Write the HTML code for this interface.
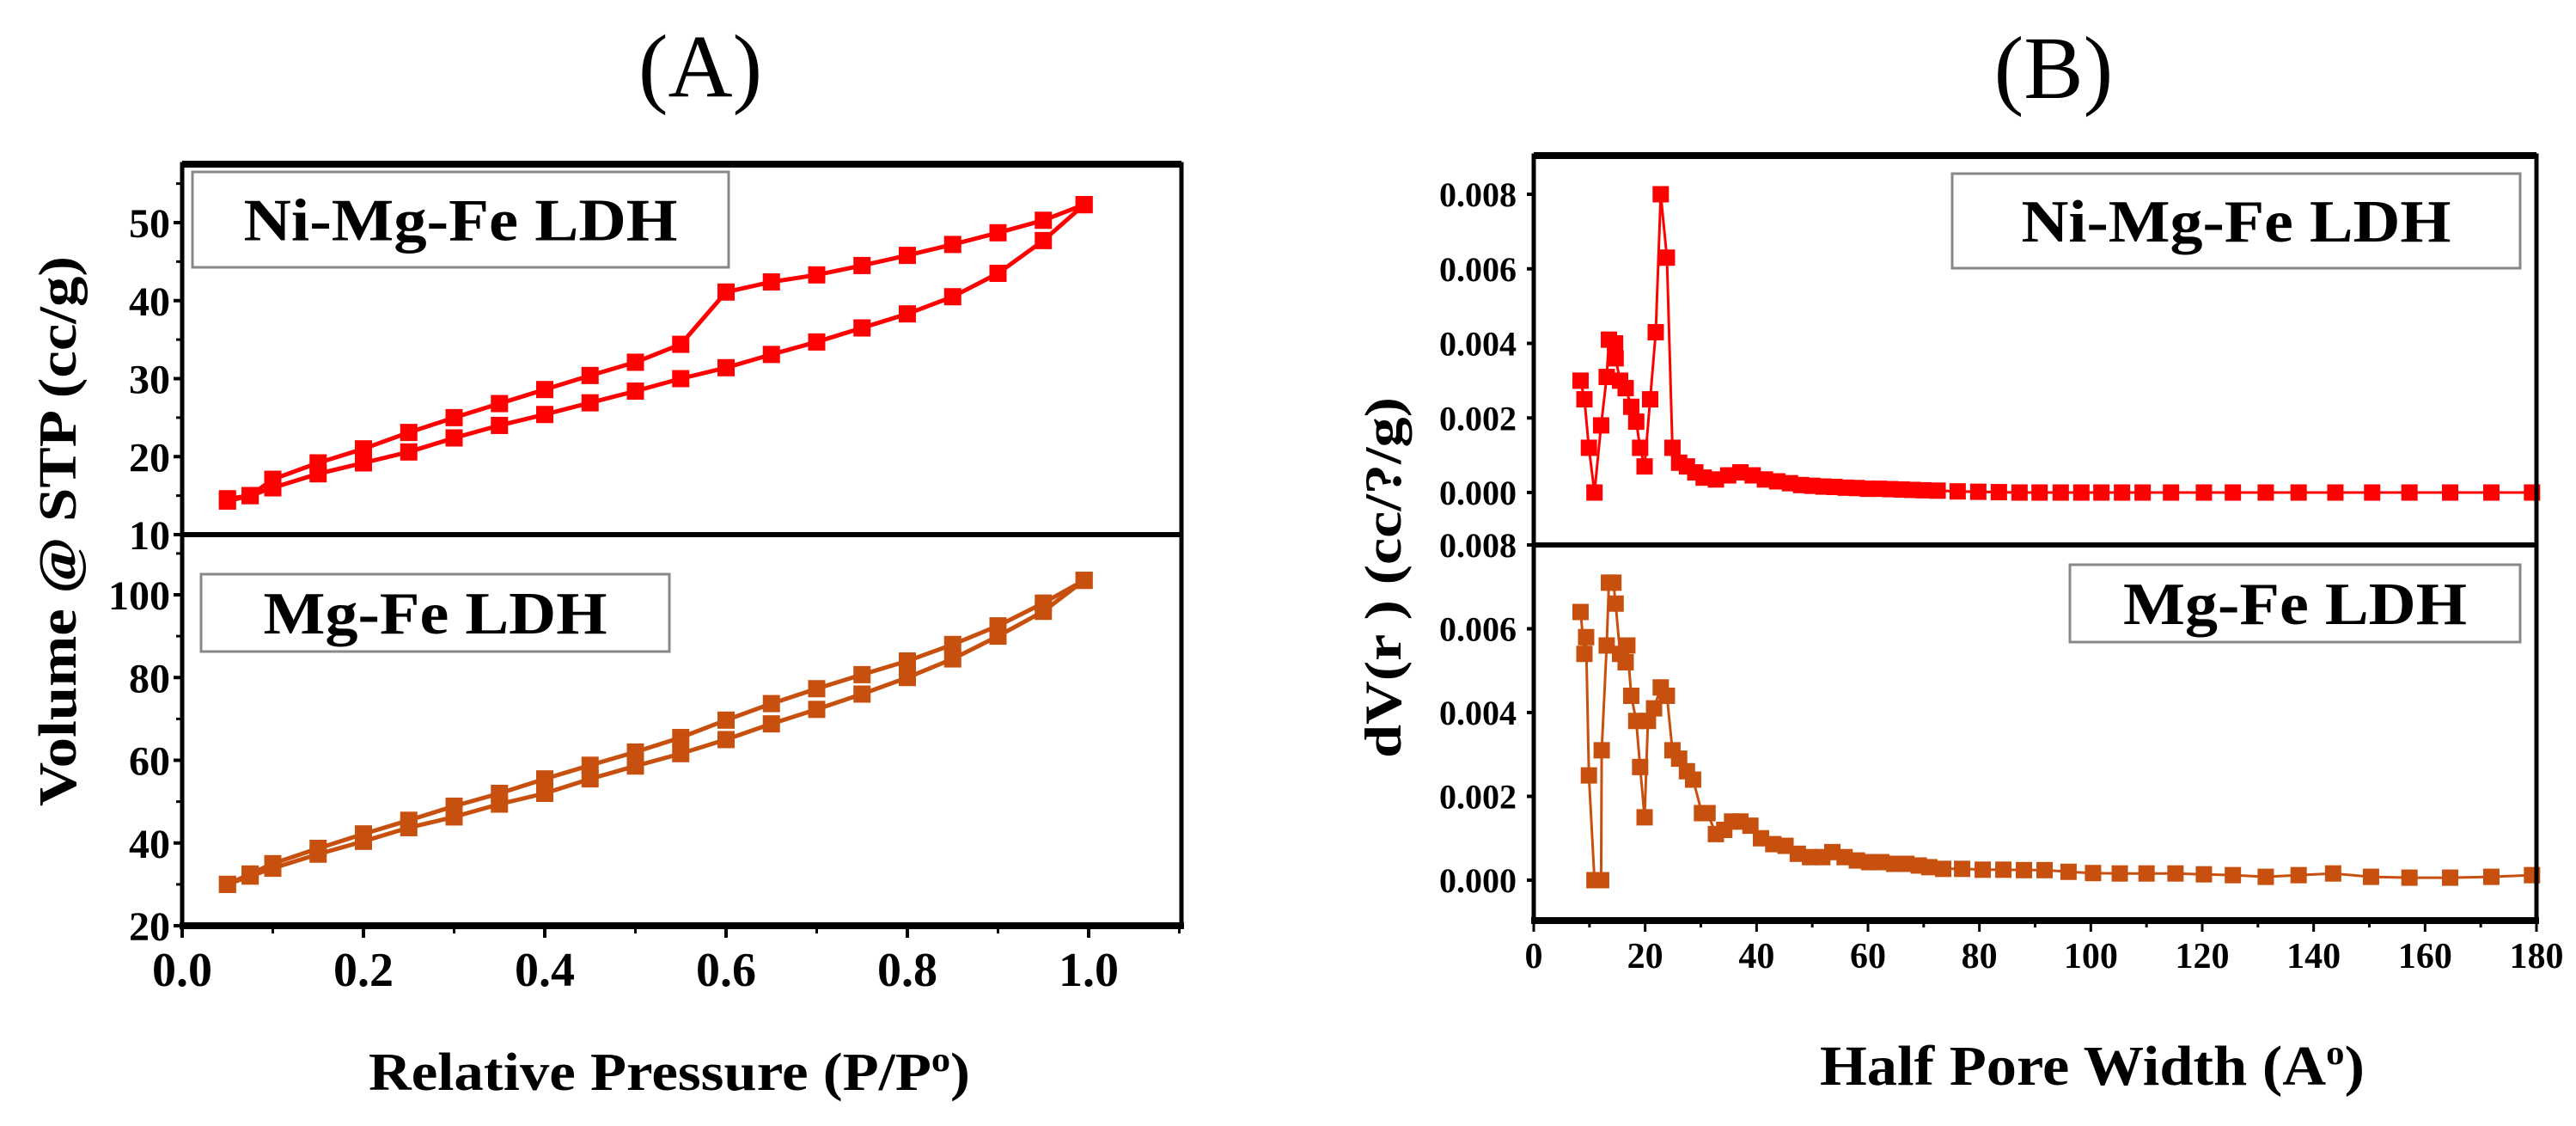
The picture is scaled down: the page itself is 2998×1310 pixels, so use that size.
<!DOCTYPE html>
<html><head><meta charset="utf-8"><style>
html,body{margin:0;padding:0;background:#fff;}
svg{display:block;}
text{font-family:"Liberation Serif",serif;}
</style></head><body>
<svg id="fig" width="2998" height="1310" viewBox="0 0 2998 1310" xmlns="http://www.w3.org/2000/svg">
<text x="815" y="112" font-size="104" text-anchor="middle">(A)</text>
<text x="2390" y="114" font-size="104" text-anchor="middle">(B)</text>
<text transform="translate(88,618) rotate(-90)" font-size="62" font-weight="bold" text-anchor="middle" textLength="640" lengthAdjust="spacingAndGlyphs">Volume @ STP (cc/g)</text>
<text x="779" y="1268" font-size="62" font-weight="bold" text-anchor="middle" textLength="700" lengthAdjust="spacingAndGlyphs">Relative Pressure (P/P<tspan font-size="40" dy="-22">o</tspan><tspan dy="22">)</tspan></text>
<text transform="translate(1630,672) rotate(-90)" font-size="60" font-weight="bold" text-anchor="middle" textLength="420" lengthAdjust="spacingAndGlyphs">dV(r ) (cc/?/g)</text>
<text x="2435" y="1262" font-size="66" font-weight="bold" text-anchor="middle" textLength="634" lengthAdjust="spacingAndGlyphs">Half Pore Width (A<tspan font-size="40" dy="-24">o</tspan><tspan dy="24">)</tspan></text>
<g id="plots"></g>
</svg>
<script>
// ---- Panel A data ----
const aP = [0.05,0.075,0.1,0.15,0.2,0.25,0.3,0.35,0.4,0.45,0.5,0.55,0.6,0.65,0.7,0.75,0.8,0.85,0.9,0.95,0.995];
const niAds = [14.3,15,16,17.8,19.2,20.6,22.4,24,25.4,26.9,28.4,30,31.4,33.1,34.7,36.5,38.3,40.5,43.5,47.7,52.3];
const niDes = [14.6,15,17.1,19.2,21,23.1,25,26.8,28.6,30.4,32.1,34.4,41.1,42.4,43.3,44.5,45.8,47.2,48.7,50.3,52.3];
const mgAds = [30,32,33.9,37.3,40.4,43.7,46.3,49.4,52,55.5,58.6,61.6,65,68.8,72.3,76,80,84.5,90,96,103.5];
const mgDes = [30,32.5,35,38.7,42.2,45.5,48.9,52,55.5,58.8,62,65.5,69.7,73.7,77.3,80.7,84,88,92.5,98,103.5];
const aXTicks = ["0.0","0.2","0.4","0.6","0.8","1.0"];
const aTopTicks = ["10","20","30","40","50"];
const aBotTicks = ["20","40","60","80","100"];
// ---- Panel B data ----
const niW = [8.4,9.1,9.9,10.9,12.1,13.1,13.5,14.6,14.7,15.5,16.5,17.5,18.4,19.1,19.9,20.9,21.9,22.8,23.9,24.9,26.1,27.5,29,30.5,32.7,34.9,37.1,39.3,41.5,43.7,46,48,50,52,54,56,58,60,62,64,66,68,70,72.5,76.1,79.8,83.5,87.2,90.8,94.6,98.3,101.9,105.6,109.3,114.4,120.3,125.5,131.4,137.3,143.9,150.5,157.2,164.5,171.9,179.2];
const niDV = [0.0030,0.0025,0.0012,0,0.0018,0.0031,0.0041,0.0040,0.0036,0.0030,0.0028,0.0023,0.0019,0.0012,0.0007,0.0025,0.0043,0.0080,0.0063,0.0012,0.0008,0.0007,0.00054,0.0004,0.00035,0.00046,0.00054,0.00046,0.00035,0.0003,0.00025,0.0002,0.00018,0.00016,0.00015,0.00013,0.00012,0.0001,0.0001,0.00009,0.00008,0.00007,0.00006,0.00005,0.00003,0.00002,0.00001,0,0,0,0,0,0,0,0,0,0,0,0,0,0,0,0,0,0];
const mgW = [8.4,9.1,9.4,9.9,10.9,12.1,12.2,13.1,13.5,14.3,14.7,15.5,16.5,16.8,17.5,18.4,19.1,19.9,20.5,21.6,22.8,23.9,24.9,26.1,27.5,28.6,30.2,31.2,32.7,34.2,35.6,37.1,38.9,40.8,43,45.2,47.4,49.6,51.8,53.6,55.8,58,60.2,62.4,64.7,66.9,69.1,71,73.5,76.9,80.6,84.3,88,91.7,96,100.4,105.2,110,115.2,120.3,125.5,131.4,137.3,143.5,150.3,157.2,164.5,171.9,179.2];
const mgDV = [0.0064,0.0054,0.0058,0.0025,0,0,0.0031,0.0056,0.0071,0.0071,0.0066,0.0054,0.0052,0.0056,0.0044,0.0038,0.0027,0.0015,0.0038,0.0041,0.0046,0.0044,0.0031,0.0029,0.0026,0.0024,0.0016,0.0016,0.0011,0.0012,0.0014,0.0014,0.0013,0.0010,0.00086,0.00082,0.00063,0.00055,0.00055,0.00067,0.00055,0.00047,0.00043,0.00043,0.00039,0.00039,0.00035,0.00031,0.00027,0.00027,0.00025,0.00025,0.00024,0.00024,0.0002,0.00017,0.00016,0.00016,0.00016,0.00014,0.00012,0.00008,0.00012,0.00016,0.00008,0.00006,0.00006,0.00008,0.00012];
const bXTicks = ["0","20","40","60","80","100","120","140","160","180"];
const bYTicks = ["0.000","0.002","0.004","0.006","0.008"];

const NS="http://www.w3.org/2000/svg";
const root=document.getElementById('plots');
function mk(tag,attrs,parent){const e=document.createElementNS(NS,tag);for(const k in attrs)e.setAttribute(k,attrs[k]);(parent||root).appendChild(e);return e;}
function lin(d0,d1,r0,r1){return v=>r0+(v-d0)*(r1-r0)/(d1-d0);}

function series(xs,ys,sx,sy,color,lw,ms,name){
  const g=mk('g',{});
  
  
  const pts=xs.map((x,i)=>sx(x).toFixed(1)+','+sy(ys[i]).toFixed(1)).join(' ');
  const pl=mk('polyline',{points:pts,fill:'none',stroke:color,'stroke-width':lw,'stroke-linejoin':'round'},g);
  
  
  xs.forEach((x,i)=>{
    const r=mk('rect',{x:sx(x)-ms/2,y:sy(ys[i])-ms/2,width:ms,height:ms,fill:color},g);
    
    
  });
}
function legend(x,y,w,h,label,fs,tl){
  const g=mk('g',{});
  
  
  mk('rect',{x:x,y:y,width:w,height:h,fill:'#fff',stroke:'#888','stroke-width':3},g);
  const t=mk('text',{x:x+w/2,y:y+h/2+fs*0.34,'font-size':fs,'font-weight':'bold','text-anchor':'middle',textLength:tl,lengthAdjust:'spacingAndGlyphs'},g);
  t.textContent=label;
  
  
}

// ===== Panel A =====
const AL=212,AR=1375,AT=191,AM=622,AB=1077;
const ax=lin(0,1.1,AL,AL+1.1*1055);
const ayTop=lin(10,50,AM,259);
const ayBot=lin(20,100,AB,692);
legend(224,200,624,111,'Ni-Mg-Fe LDH',70,505);
legend(234,668,545,90,'Mg-Fe LDH',70,400);
series(aP,niAds,ax,ayTop,'#ff0000',5,20,'ni-mg-fe-adsorption');
series(aP,niDes,ax,ayTop,'#ff0000',5,20,'ni-mg-fe-desorption');
series(aP,mgAds,ax,ayBot,'#c8500f',5,20,'mg-fe-adsorption');
series(aP,mgDes,ax,ayBot,'#c8500f',5,20,'mg-fe-desorption');
mk('path',{d:`M${AL},${AB} V${AT} H${AR} V${AB}`,fill:'none',stroke:'#000','stroke-width':5});
mk('line',{x1:AL,y1:AT,x2:AR,y2:AT,stroke:'#000','stroke-width':8});
mk('line',{x1:AL,y1:AM,x2:AR,y2:AM,stroke:'#000','stroke-width':6});
mk('line',{x1:AL-3,y1:AB,x2:AR+3,y2:AB,stroke:'#000','stroke-width':8});
aXTicks.forEach((t,i)=>{const v=parseFloat(t);const x=ax(v);
  mk('line',{x1:x,y1:AB,x2:x,y2:AB+14,stroke:'#000','stroke-width':4});
  const e=mk('text',{x:x,y:1147,'font-size':56,'font-weight':'bold','text-anchor':'middle'});e.textContent=t;
  
  });
for(let v=0.1;v<1.1;v+=0.2){const x=ax(v);mk('line',{x1:x,y1:AB,x2:x,y2:AB+9,stroke:'#000','stroke-width':3});}
aTopTicks.forEach(t=>{const v=+t;const y=ayTop(v);
  mk('line',{x1:AL-10,y1:y,x2:AL,y2:y,stroke:'#000','stroke-width':4});
  const e=mk('text',{x:AL-14,y:y+17,'font-size':48,'font-weight':'bold','text-anchor':'end'});e.textContent=t;
  
  });
for(let v=15;v<58;v+=10){const y=ayTop(v);mk('line',{x1:AL-7,y1:y,x2:AL,y2:y,stroke:'#000','stroke-width':3});}
aBotTicks.forEach(t=>{const v=+t;const y=ayBot(v);
  mk('line',{x1:AL-10,y1:y,x2:AL,y2:y,stroke:'#000','stroke-width':4});
  const e=mk('text',{x:AL-14,y:y+17,'font-size':48,'font-weight':'bold','text-anchor':'end'});e.textContent=t;
  
  });
for(let v=30;v<114;v+=20){const y=ayBot(v);mk('line',{x1:AL-7,y1:y,x2:AL,y2:y,stroke:'#000','stroke-width':3});}

// ===== Panel B =====
const BL=1785,BR=2952,BT=181,BM=634,BB=1071;
const bx=lin(0,180,BL,BR);
const byTop=lin(0,0.008,573,226);
const byBot=lin(0,0.008,1024,BM);
legend(2272,202,661,110,'Ni-Mg-Fe LDH',70,500);
legend(2409,657,524,90,'Mg-Fe LDH',70,400);
series(niW,niDV,bx,byTop,'#ff0000',3,19,'ni-mg-fe-pore-distribution');
series(mgW,mgDV,bx,byBot,'#c8500f',3,19,'mg-fe-pore-distribution');
mk('path',{d:`M${BL},${BB} V${BT} H${BR} V${BB}`,fill:'none',stroke:'#000','stroke-width':5});
mk('line',{x1:BL,y1:BT,x2:BR,y2:BT,stroke:'#000','stroke-width':8});
mk('line',{x1:BL,y1:BM,x2:BR,y2:BM,stroke:'#000','stroke-width':6});
mk('line',{x1:BL-3,y1:BB,x2:BR+3,y2:BB,stroke:'#000','stroke-width':8});
bXTicks.forEach(t=>{const v=+t;const x=bx(v);
  mk('line',{x1:x,y1:BB,x2:x,y2:BB+13,stroke:'#000','stroke-width':3});
  const e=mk('text',{x:x,y:1126,'font-size':42,'font-weight':'bold','text-anchor':'middle'});e.textContent=t;
  
  });
for(let v=10;v<180;v+=20){const x=bx(v);mk('line',{x1:x,y1:BB,x2:x,y2:BB+8,stroke:'#000','stroke-width':3});}
bYTicks.forEach(t=>{const v=+t;[byTop,byBot].forEach((sc,k)=>{const y=sc(v);
  mk('line',{x1:BL-8,y1:y,x2:BL,y2:y,stroke:'#000','stroke-width':4});
  const e=mk('text',{x:BL-20,y:y+14,'font-size':40,'font-weight':'bold','text-anchor':'end',textLength:90,lengthAdjust:'spacingAndGlyphs'});e.textContent=t;
  
  });});
</script>
</body></html>
